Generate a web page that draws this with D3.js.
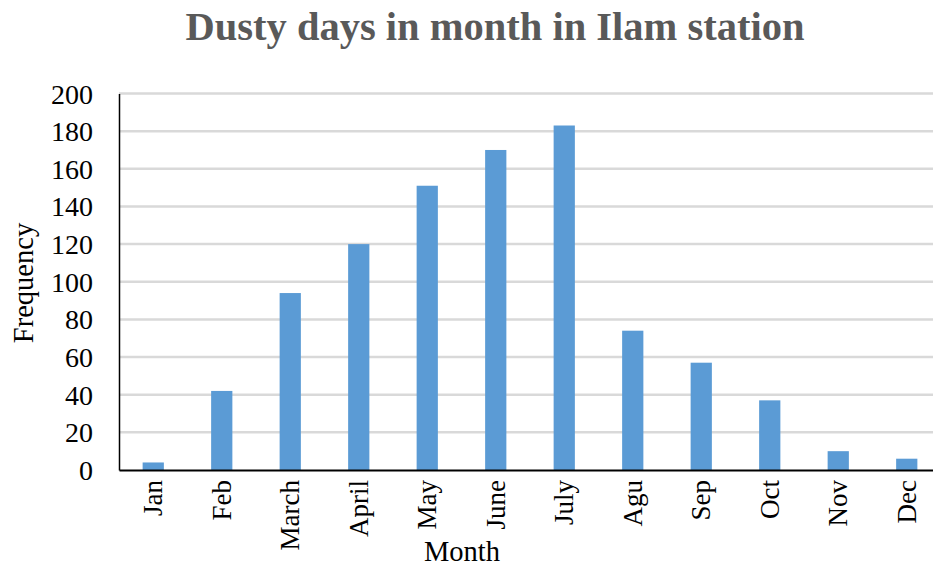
<!DOCTYPE html>
<html>
<meta charset="utf-8">
<head>
    <title>Dusty days in month in Ilam station</title>
</head>
<style>
    body { margin: 0; background: #fff; }
    svg text { font-family: "Liberation Serif", "Times New Roman", serif !important; }
</style>
<script src="https://d3js.org/d3.v7.min.js"></script>
<body>
<div id="chart"></div>
<script>

// data
var months = ["Jan","Feb","March","April","May","June","July","Agu","Sep","Oct","Nov","Dec"]
var dustyDays = [4, 42, 94, 120, 151, 170, 183, 74, 57, 37, 10, 6]
var yTicks = [0, 20, 40, 60, 80, 100, 120, 140, 160, 180, 200]

var data = months.map(function(m, i) { return {month: m, value: dustyDays[i]}; })

var W = 933, H = 566
var margin = {top: 93.5, right: -8, bottom: 96, left: 119}
var width = W - margin.left - margin.right,
    height = H - margin.top - margin.bottom

var svg = d3.select("#chart")
  .append("svg")
  .attr("width", W)
  .attr("height", H)

var g = svg.append("g")
  .attr("transform", "translate(" + margin.left + "," + margin.top + ")")

var x = d3.scaleBand()
  .domain(months)
  .range([0, width])
  .paddingInner(0.69)
  .paddingOuter(0.345)

var y = d3.scaleLinear()
  .domain([0, 200])
  .range([height, 0])

// gridlines
g.selectAll("grid")
  .data(yTicks.slice(1)).enter()
  .append("line")
  .attr("x1", 0)
  .attr("x2", width)
  .attr("y1", function(d) { return y(d); })
  .attr("y2", function(d) { return y(d); })
  .style("stroke", "#d9d9d9")
  .style("stroke-width", 2.5)

// bars
g.selectAll("bar")
  .data(data).enter()
  .append("rect")
  .attr("x", function(d) { return x(d.month); })
  .attr("width", x.bandwidth())
  .attr("y", function(d) { return y(d.value); })
  .attr("height", function(d) { return height - y(d.value); })
  .style("fill", "#5b9bd5")

// y axis
var yAxis = g.append("g")
  .call(d3.axisLeft(y).tickValues(yTicks).tickSize(0).tickPadding(26))
yAxis.attr("font-size", null)
yAxis.select(".domain").style("stroke", "#000").style("stroke-width", 1.5)
yAxis.selectAll("text")
  .attr("font-size", 28)
  .style("font-size", "28px")
  .style("fill", "#000")
  .attr("dy", "0.34em")

// x axis
var xAxis = g.append("g")
  .attr("transform", "translate(0," + height + ")")
  .call(d3.axisBottom(x).tickSize(0).tickPadding(0))
xAxis.attr("font-size", null)
xAxis.select(".domain").style("stroke", "#000").style("stroke-width", 2)
xAxis.selectAll("text")
  .attr("font-size", 27)
  .style("font-size", "27px")
  .style("fill", "#000")
  .style("text-anchor", "end")
  .attr("dy", null)
  .attr("y", 0)
  .attr("transform", "translate(9,10) rotate(-90)")

// title
svg.append("text")
  .attr("x", 495)
  .attr("y", 40)
  .style("text-anchor", "middle")
  .style("font-size", "40.5px")
  .style("font-weight", "bold")
  .style("fill", "#595959")
  .text("Dusty days in month in Ilam station")

// axis titles
svg.append("text")
  .attr("x", 462)
  .attr("y", 561)
  .style("text-anchor", "middle")
  .style("font-size", "28.5px")
  .style("fill", "#000")
  .text("Month")

svg.append("text")
  .attr("transform", "translate(33,283) rotate(-90)")
  .style("text-anchor", "middle")
  .style("font-size", "28.5px")
  .style("fill", "#000")
  .text("Frequency")

</script>
</body>
</html>
